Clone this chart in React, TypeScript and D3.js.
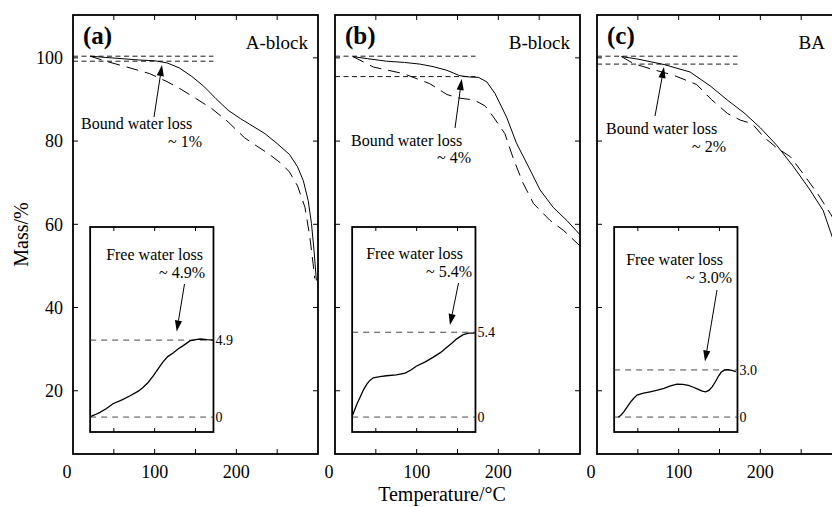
import React from 'react';
import * as d3 from 'd3';

type Pt = [number, number];

// main TG curves (temperature °C, mass %)
const aSolid: Pt[] = [[21,100.4],[40,100.1],[60,99.8],[80,99.5],[100,99.3],[115,98.8],[130,97.6],[145,95.6],[160,93.2],[175,90.2],[190,87.4],[205,85.4],[220,83.6],[235,81.8],[250,79.4],[265,76.8],[275,73.8],[282,70.5],[288,65.7],[292,60.2],[295,54],[297,49],[298,46.5]];
const aDashed: Pt[] = [[21,100.4],[40,99.2],[66,97.8],[94,96.2],[115,94.3],[131,92.6],[150,90.3],[170,87.8],[190,84.6],[210,80.8],[225,78.8],[240,76.9],[255,74.6],[265,72.6],[275,69.2],[284,64.1],[290,57],[294,50.5],[296,47]];
const bSolid: Pt[] = [[22,100.3],[40,99.8],[63,99.2],[85,98.9],[104,98.5],[120,97.9],[137,97.0],[153,95.7],[165,95.4],[176,95.3],[186,94.2],[196,91.4],[210,85.8],[222,79.6],[237,73.8],[251,68.3],[267,64.1],[284,60.9],[300,57.5]];
const bDashed: Pt[] = [[22,100.3],[47,97.8],[84,96.2],[116,93.8],[137,91.2],[150,90.4],[165,90.0],[175,89.4],[184,88.4],[194,85.8],[208,81.8],[218,76],[230,70],[243,65],[263,61],[280,58.5],[300,54.8]];
const cSolid: Pt[] = [[30,100.3],[50,99.7],[82,98.4],[114,96.6],[139,93.2],[160,89.8],[180,86.8],[200,83.2],[220,79],[240,74],[260,68.5],[277,63.3],[288,57],[296,52]];
const cDashed: Pt[] = [[30,100.3],[45,98.6],[65,97.4],[94,95.8],[122,93.6],[140,90],[160,86.6],[176,85],[190,84.2],[204,81],[220,78.4],[237,76.2],[253,72],[270,67.4],[286,62.5],[296,59]];

// inset: free water loss (%)
const aFree: Pt[] = [[22,0.05],[27,0.15],[33,0.3],[41,0.55],[49,0.85],[60,1.1],[70,1.36],[80,1.65],[86,1.9],[92,2.2],[98,2.6],[104,3.05],[110,3.5],[116,3.85],[123,4.1],[129,4.35],[135,4.55],[143,4.85],[150,4.93],[156,4.97],[164,4.93],[172,4.9]];
const bFree: Pt[] = [[21,0.05],[24,0.45],[27,0.85],[31,1.3],[35,1.75],[39,2.1],[43,2.35],[47,2.5],[55,2.58],[63,2.63],[75,2.68],[86,2.8],[93,3.0],[100,3.25],[110,3.5],[120,3.8],[129,4.1],[137,4.45],[143,4.7],[149,4.98],[157,5.25],[164,5.35],[171,5.35]];
const cFree: Pt[] = [[26,0],[29,0.1],[33,0.35],[37,0.65],[41,0.95],[45,1.2],[49,1.4],[57,1.52],[65,1.61],[74,1.72],[82,1.83],[90,1.98],[98,2.1],[105,2.08],[112,2.02],[118,1.9],[124,1.76],[129,1.65],[133,1.61],[137,1.7],[141,1.92],[145,2.25],[149,2.63],[152,2.85],[156,3.0],[160,3.02],[165,2.98],[170,2.9]];

const boundLevels = [[100.4, 99.2], [100.4, 95.5], [100.4, 98.5]];
const freeLevels = [4.9, 5.4, 3.0];
const freeLabels = ['4.9', '5.4', '3.0'];
const boundText = ['~ 1%', '~ 4%', '~ 2%'];
const freeText = ['~ 4.9%', '~ 5.4%', '~ 3.0%'];
const panelTags = ['(a)', '(b)', '(c)'];
const sampleNames = ['A-block', 'B-block', 'BA'];

const xTicks = [0, 50, 100, 150, 200, 250];
const xTickLabels = [0, 100, 200];
const yTicks = [20, 40, 60, 80, 100];

const W = 832, H = 507;
const lefts = [73, 335, 597];
const PW = 245;
const TOP = 15, BOT = 454;
const FONT = '"Liberation Serif", "Times New Roman", serif';

// annotation placement (pixels)
const bound = [
  { tx: 81, ty: 129, px: 168, py: 147, a: [154, 117, 162, 65] },
  { tx: 351, ty: 146, px: 437, py: 163, a: [455, 128, 461.7, 79] },
  { tx: 606, ty: 134, px: 692, py: 152, a: [655, 116, 664, 67] },
];
const free = [
  { tx: 203, ty: 260, px: 205, py: 278, a: [184.5, 284, 176.7, 331.5] },
  { tx: 463, ty: 259, px: 472, py: 277, a: [458.5, 283, 450, 325] },
  { tx: 723, ty: 265, px: 732, py: 283, a: [717, 290, 705, 361.5] },
];
const nameX = [308, 570, 825];

const Arrow: React.FC<{ a: number[] }> = ({ a }) => {
  const [x1, y1, x2, y2] = a;
  const ang = Math.atan2(y2 - y1, x2 - x1);
  const L = 11, hw = 3.6;
  const bx = x2 - L * Math.cos(ang), by = y2 - L * Math.sin(ang);
  const nx = -Math.sin(ang) * hw, ny = Math.cos(ang) * hw;
  return (
    <g>
      <line x1={x1} y1={y1} x2={bx} y2={by} stroke="#000" strokeWidth={1} />
      <polygon points={`${x2},${y2} ${bx + nx},${by + ny} ${bx - nx},${by - ny}`} fill="#000" />
    </g>
  );
};

const Panel: React.FC<{ i: number; solid: Pt[]; dashed: Pt[]; freeData: Pt[] }> = ({ i, solid, dashed, freeData }) => {
  const left = lefts[i];
  const x = d3.scaleLinear().domain([0, 300]).range([left, left + PW]);
  const y = d3.scaleLinear().domain([4.8, 110.3]).range([BOT, TOP]);
  const iy = d3.scaleLinear().domain([-0.95, 12.1]).range([432, 227]);
  const ix0 = x(21), ix1 = x(172);
  const line = d3.line<Pt>().x(d => x(d[0])).y(d => y(d[1]));
  const iline = d3.line<Pt>().x(d => x(d[0])).y(d => iy(d[1]));
  const b = bound[i], f = free[i];
  return (
    <g>
      {/* reference dashed levels */}
      {boundLevels[i].map((v, k) => (
        <line key={k} x1={x(0)} x2={x(172)} y1={y(v)} y2={y(v)} stroke="#000" strokeWidth={0.9} strokeDasharray="5,3.5" />
      ))}
      <path d={line(solid) || ''} fill="none" stroke="#000" strokeWidth={1} />
      <path d={line(dashed) || ''} fill="none" stroke="#000" strokeWidth={1} strokeDasharray="12,7" />

      {/* frame */}
      <rect x={x(0)} y={TOP} width={PW} height={BOT - TOP} fill="none" stroke="#000" strokeWidth={1.8} />
      {xTicks.filter(t => t > 0).map(t => (
        <g key={t}>
          <line x1={x(t)} x2={x(t)} y1={TOP} y2={TOP + 5} stroke="#000" />
          <line x1={x(t)} x2={x(t)} y1={BOT} y2={BOT - 5} stroke="#000" />
        </g>
      ))}
      {yTicks.map(t => (
        <g key={t}>
          <line x1={x(0)} x2={x(0) + 5} y1={y(t)} y2={y(t)} stroke="#000" />
          <line x1={x(300)} x2={x(300) - 5} y1={y(t)} y2={y(t)} stroke="#000" />
        </g>
      ))}
      {xTickLabels.map(t => (
        <text key={t} x={x(t) + (t === 0 ? -6 : 0)} y={478} textAnchor="middle" fontSize={18} fontFamily={FONT}>{t}</text>
      ))}
      {i === 0 && yTicks.map(t => (
        <text key={t} x={x(0) - 10} y={y(t)} dy="0.35em" textAnchor="end" fontSize={18} fontFamily={FONT}>{t}</text>
      ))}

      <text x={x(0) + 10} y={44} fontSize={25} fontWeight="bold" fontFamily={FONT}>{panelTags[i]}</text>
      <text x={nameX[i]} y={49} textAnchor="end" fontSize={19} fontFamily={FONT}>{sampleNames[i]}</text>

      <text x={b.tx} y={b.ty} fontSize={16} fontFamily={FONT}>Bound water loss</text>
      <text x={b.px} y={b.py} fontSize={16} fontFamily={FONT}>{boundText[i]}</text>
      <Arrow a={b.a} />

      {/* inset */}
      <rect x={ix0} y={227} width={ix1 - ix0} height={205} fill="#fff" stroke="#000" strokeWidth={1.8} />
      {[50, 100, 150].map(t => (
        <g key={t}>
          <line x1={x(t)} x2={x(t)} y1={432} y2={428} stroke="#000" />
          <line x1={x(t)} x2={x(t)} y1={227} y2={231} stroke="#000" />
        </g>
      ))}
      {[0, freeLevels[i]].map((v, k) => (
        <line key={k} x1={ix0} x2={ix1} y1={iy(v)} y2={iy(v)} stroke="#333" strokeWidth={0.9} strokeDasharray="6,5" />
      ))}
      <path d={iline(freeData) || ''} fill="none" stroke="#000" strokeWidth={1.3} />
      <text x={ix1 + 2} y={iy(freeLevels[i])} dy="0.35em" fontSize={14} fontFamily={FONT}>{freeLabels[i]}</text>
      <text x={ix1 + 2} y={iy(0)} dy="0.35em" fontSize={14} fontFamily={FONT}>0</text>
      <text x={f.tx} y={f.ty} textAnchor="end" fontSize={16} fontFamily={FONT}>Free water loss</text>
      <text x={f.px} y={f.py} textAnchor="end" fontSize={16} fontFamily={FONT}>{freeText[i]}</text>
      <Arrow a={f.a} />
    </g>
  );
};

export default function App() {
  return (
    <div style={{ position: 'absolute', left: 0, top: 0, width: W, height: H, background: '#fff' }}>
      <svg width={W} height={H} style={{ display: 'block' }}>
        <rect width={W} height={H} fill="#fff" />
        <Panel i={0} solid={aSolid} dashed={aDashed} freeData={aFree} />
        <Panel i={1} solid={bSolid} dashed={bDashed} freeData={bFree} />
        <Panel i={2} solid={cSolid} dashed={cDashed} freeData={cFree} />
        <text transform={`translate(28,${(TOP + BOT) / 2}) rotate(-90)`} textAnchor="middle" fontSize={20} fontFamily={FONT}>Mass/%</text>
        <text x={442} y={501} textAnchor="middle" fontSize={20} fontFamily={FONT}>Temperature/°C</text>
      </svg>
    </div>
  );
}
